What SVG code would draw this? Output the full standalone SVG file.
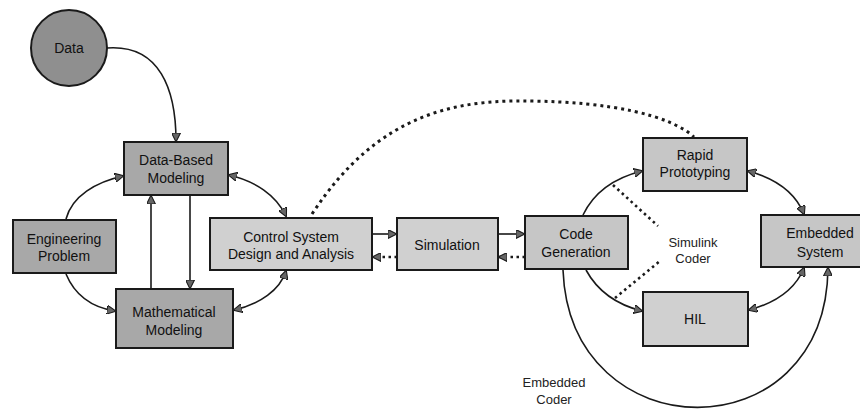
<svg xmlns="http://www.w3.org/2000/svg" width="860" height="409" viewBox="0 0 860 409">
<defs>
<style>
.box{stroke:#1a1a1a;stroke-width:2}
.dark{fill:#8f8f8f}
.mid{fill:#a8a8a8}
.light{fill:#c6c6c6}
.lighter{fill:#d0d0d0}
.t{font-family:"Liberation Sans",Arial,sans-serif;font-size:14px;fill:#111;text-anchor:middle}
.lbl{font-family:"Liberation Sans",Arial,sans-serif;font-size:13px;fill:#222;text-anchor:middle}
.c{fill:none;stroke:#1a1a1a;stroke-width:1.6}
.d{fill:none;stroke:#1a1a1a;stroke-width:3;stroke-dasharray:3 4}
.ds{fill:none;stroke:#1a1a1a;stroke-width:2.6;stroke-dasharray:2.5 3.5}
</style>
<marker id="ah" viewBox="0 0 10 10" refX="9" refY="5" markerWidth="9" markerHeight="9" markerUnits="userSpaceOnUse" orient="auto-start-reverse">
<path d="M0,0 L10,5 L0,10 z" fill="#666" stroke="#1a1a1a" stroke-width="1.2"/>
</marker>
</defs>
<rect width="860" height="409" fill="#fff"/>

<g id="connectors">
<path class="c" d="M107,48 C160,44 176,90 176,141" marker-end="url(#ah)"/>
<path class="c" d="M66,219 C72,196 96,182 123,176" marker-end="url(#ah)"/>
<path class="c" d="M66,274 C76,298 96,308 115,311" marker-end="url(#ah)"/>
<path class="c" d="M190,196 L190,288" marker-end="url(#ah)"/>
<path class="c" d="M151,288 L151,196" marker-end="url(#ah)"/>
<path class="c" d="M229,175 C255,181 276,195 286,216" marker-start="url(#ah)" marker-end="url(#ah)"/>
<path class="c" d="M234,310 C260,304 280,290 286,271" marker-start="url(#ah)" marker-end="url(#ah)"/>
<path class="c" d="M373,234 L396,234" marker-end="url(#ah)"/>
<path class="ds" d="M397,257 L373,257" marker-end="url(#ah)"/>
<path class="c" d="M499,234 L524,234" marker-end="url(#ah)"/>
<path class="ds" d="M525,257 L499,257" marker-end="url(#ah)"/>
<path class="d" d="M312,214 C380,110 460,100 530,101 C610,102 670,115 694,137"/>
<path class="c" d="M583,215 C594,192 614,178 642,171" marker-end="url(#ah)"/>
<path class="c" d="M586,270 C598,292 618,305 642,311" marker-end="url(#ah)"/>
<path class="ds" d="M613,185 L658,226"/>
<path class="ds" d="M615,298 L660,261"/>
<path class="c" d="M748,171 C774,178 795,192 804,214" marker-start="url(#ah)" marker-end="url(#ah)"/>
<path class="c" d="M749,310 C775,303 795,290 804,268" marker-start="url(#ah)" marker-end="url(#ah)"/>
<path class="c" d="M563,270 C570,452 826,455 828,268" marker-end="url(#ah)"/>
</g>

<g id="data">
<circle class="box dark" cx="69" cy="48" r="38"/>
<text class="t" x="69" y="53">Data</text>
</g>
<g id="data-based-modeling">
<rect class="box mid" x="124" y="142" width="104" height="53"/>
<text class="t" x="176" y="165">Data-Based</text>
<text class="t" x="176" y="183">Modeling</text>
</g>
<g id="engineering-problem">
<rect class="box mid" x="13" y="220" width="103" height="53"/>
<text class="t" x="64" y="244">Engineering</text>
<text class="t" x="64" y="261">Problem</text>
</g>
<g id="mathematical-modeling">
<rect class="box mid" x="116" y="289" width="117" height="59"/>
<text class="t" x="174" y="317">Mathematical</text>
<text class="t" x="174" y="335">Modeling</text>
</g>
<g id="control-system">
<rect class="box lighter" x="210" y="218" width="162" height="52"/>
<text class="t" x="291" y="242">Control System</text>
<text class="t" x="291" y="259">Design and Analysis</text>
</g>
<g id="simulation">
<rect class="box lighter" x="397" y="218" width="101" height="52"/>
<text class="t" x="447" y="250">Simulation</text>
</g>
<g id="code-generation">
<rect class="box light" x="525" y="216" width="103" height="53"/>
<text class="t" x="576" y="239">Code</text>
<text class="t" x="576" y="257">Generation</text>
</g>
<g id="rapid-prototyping">
<rect class="box light" x="643" y="138" width="104" height="53"/>
<text class="t" x="695" y="160">Rapid</text>
<text class="t" x="695" y="177">Prototyping</text>
</g>
<g id="embedded-system">
<rect class="box light" x="761" y="215" width="105" height="52"/>
<text class="t" x="820" y="238">Embedded</text>
<text class="t" x="820" y="257">System</text>
</g>
<g id="hil">
<rect class="box lighter" x="643" y="292" width="105" height="54"/>
<text class="t" x="695" y="324">HIL</text>
</g>
<g id="simulink-coder">
<text class="lbl" x="693" y="247">Simulink</text>
<text class="lbl" x="693" y="263">Coder</text>
</g>
<g id="embedded-coder">
<text class="lbl" x="554" y="387">Embedded</text>
<text class="lbl" x="554" y="404">Coder</text>
</g>
</svg>
